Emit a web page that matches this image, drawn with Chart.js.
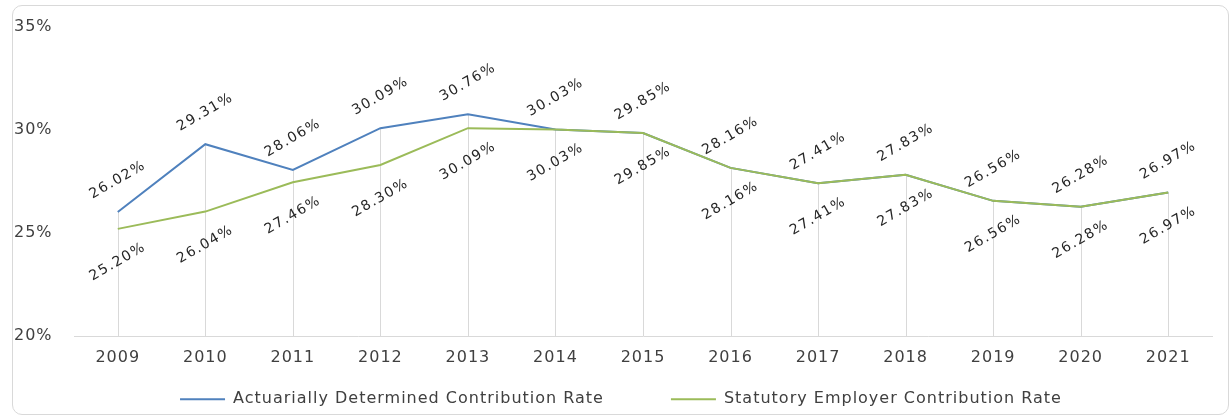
<!DOCTYPE html>
<html>
<head>
<meta charset="utf-8">
<script src="https://cdn.jsdelivr.net/npm/chart.js@4/dist/chart.umd.min.js"></script>
<style>
  html, body { margin: 0; padding: 0; background: #fff; }
  #frame {
    position: absolute; left: 12px; top: 5px; width: 1215px; height: 408px;
    border: 1px solid #d9d9d9; border-radius: 10px;
  }
  #wrap { position: absolute; left: 0; top: 0; width: 1232px; height: 416px; }
</style>
</head>
<body>
<div id="frame"></div>
<div id="wrap"><canvas id="rateChart"></canvas></div>
<script>
// chart data
const years = ['2009', '2010', '2011', '2012', '2013', '2014', '2015', '2016', '2017', '2018', '2019', '2020', '2021'];
const actuarialRates = [26.02, 29.31, 28.06, 30.09, 30.76, 30.03, 29.85, 28.16, 27.41, 27.83, 26.56, 26.28, 26.97];
const statutoryRates = [25.20, 26.04, 27.46, 28.30, 30.09, 30.03, 29.85, 28.16, 27.41, 27.83, 26.56, 26.28, 26.97];
const yTicks = [20, 25, 30, 35];

const blue = '#4f81bd';
const green = '#9bbb59';

// the source text is set wide, so space the letters a bit
const spacingPlugin = {
    id: 'spacing',
    afterInit(chart) {
        // legend padding gives the wide gap between items, so keep the box short
        // and move it back up while it draws
        const legend = chart.legend;
        const fit = legend.fit;
        const draw = legend.draw;
        legend.fit = function() { fit.call(this); this.height = 44.8; };
        legend.draw = function() {
            const saved = { top: this.top, bottom: this.bottom, height: this.height, left: this.left, right: this.right };
            this.top = saved.top - 47;
            this.height = saved.height + 120;
            this.bottom = this.top + this.height;
            this.left = saved.left + 8;
            this.right = saved.right + 8;
            draw.call(this);
            Object.assign(this, saved);
        };
    },
    beforeUpdate(chart) { chart.ctx.letterSpacing = '1px'; },
    beforeLayout(chart) { chart.ctx.letterSpacing = '1px'; },
    beforeDraw(chart) { chart.ctx.letterSpacing = '1px'; }
};

// drop lines from the highest point down to the axis
const dropLines = {
    id: 'dropLines',
    beforeDatasetsDraw(chart) {
        const ctx = chart.ctx;
        const bottom = chart.chartArea.bottom;
        const metas = [0, 1].map(i => chart.getDatasetMeta(i));
        ctx.save();
        ctx.strokeStyle = '#d9d9d9';
        ctx.lineWidth = 1;
        metas[0].data.forEach((pt, i) => {
            const top = Math.min(pt.y, metas[1].data[i].y);
            const x = Math.round(pt.x) + 0.5;
            ctx.beginPath();
            ctx.moveTo(x, top);
            ctx.lineTo(x, bottom);
            ctx.stroke();
        });
        ctx.restore();
    }
};

// rotated value labels, blue above and green below
const valueLabels = {
    id: 'valueLabels',
    afterDatasetsDraw(chart) {
        const ctx = chart.ctx;
        ctx.save();
        ctx.font = '14px "DejaVu Sans"';
        ctx.letterSpacing = '1.5px';
        ctx.fillStyle = '#262626';
        ctx.textAlign = 'center';
        ctx.textBaseline = 'middle';
        chart.data.datasets.forEach((ds, di) => {
            const offset = di === 0 ? -32 : 33;
            chart.getDatasetMeta(di).data.forEach((pt, i) => {
                ctx.save();
                ctx.translate(pt.x, pt.y + offset);
                ctx.rotate(-30 * Math.PI / 180);
                ctx.fillText(ds.data[i].toFixed(2) + '%', 0, 0);
                ctx.restore();
            });
        });
        ctx.restore();
    }
};

Chart.defaults.font.family = '"DejaVu Sans", sans-serif';
Chart.defaults.color = '#404040';

new Chart(document.getElementById('rateChart').getContext('2d'), {
    type: 'line',
    data: {
        labels: years,
        datasets: [{
            label: 'Actuarially Determined Contribution Rate',
            data: actuarialRates,
            borderColor: blue,
            backgroundColor: blue,
            borderWidth: 2,
            pointRadius: 0,
            order: 1
        }, {
            label: 'Statutory Employer Contribution Rate',
            data: statutoryRates,
            borderColor: green,
            backgroundColor: green,
            borderWidth: 2,
            pointRadius: 0,
            order: 0
        }]
    },
    options: {
        responsive: true,
        maintainAspectRatio: false,
        animation: false,
        layout: {
            padding: { left: 14, right: 20, top: 27, bottom: 0 }
        },
        scales: {
            x: {
                offset: true,
                grid: { display: false },
                border: { display: true, color: '#d9d9d9' },
                ticks: { font: { size: 16 }, padding: 4, maxRotation: 0 }
            },
            y: {
                min: 20,
                max: 35,
                afterBuildTicks: scale => { scale.ticks = yTicks.map(v => ({ value: v })); },
                afterFit: scale => { scale.width = 60; },
                grid: { display: false },
                border: { display: false },
                ticks: {
                    font: { size: 16 },
                    crossAlign: 'far',
                    callback: v => v + '%'
                }
            }
        },
        plugins: {
            legend: {
                position: 'bottom',
                labels: {
                    font: { size: 16 },
                    boxWidth: 45,
                    boxHeight: 2,
                    padding: 67,
                    sort: (a, b) => a.datasetIndex - b.datasetIndex,
                    generateLabels: chart => {
                        const items = Chart.defaults.plugins.legend.labels.generateLabels(chart);
                        items.forEach(item => { item.lineWidth = 0; item.fillStyle = item.strokeStyle; });
                        return items;
                    }
                }
            },
            tooltip: { enabled: false }
        }
    },
    plugins: [spacingPlugin, dropLines, valueLabels]
});
</script>
</body>
</html>
